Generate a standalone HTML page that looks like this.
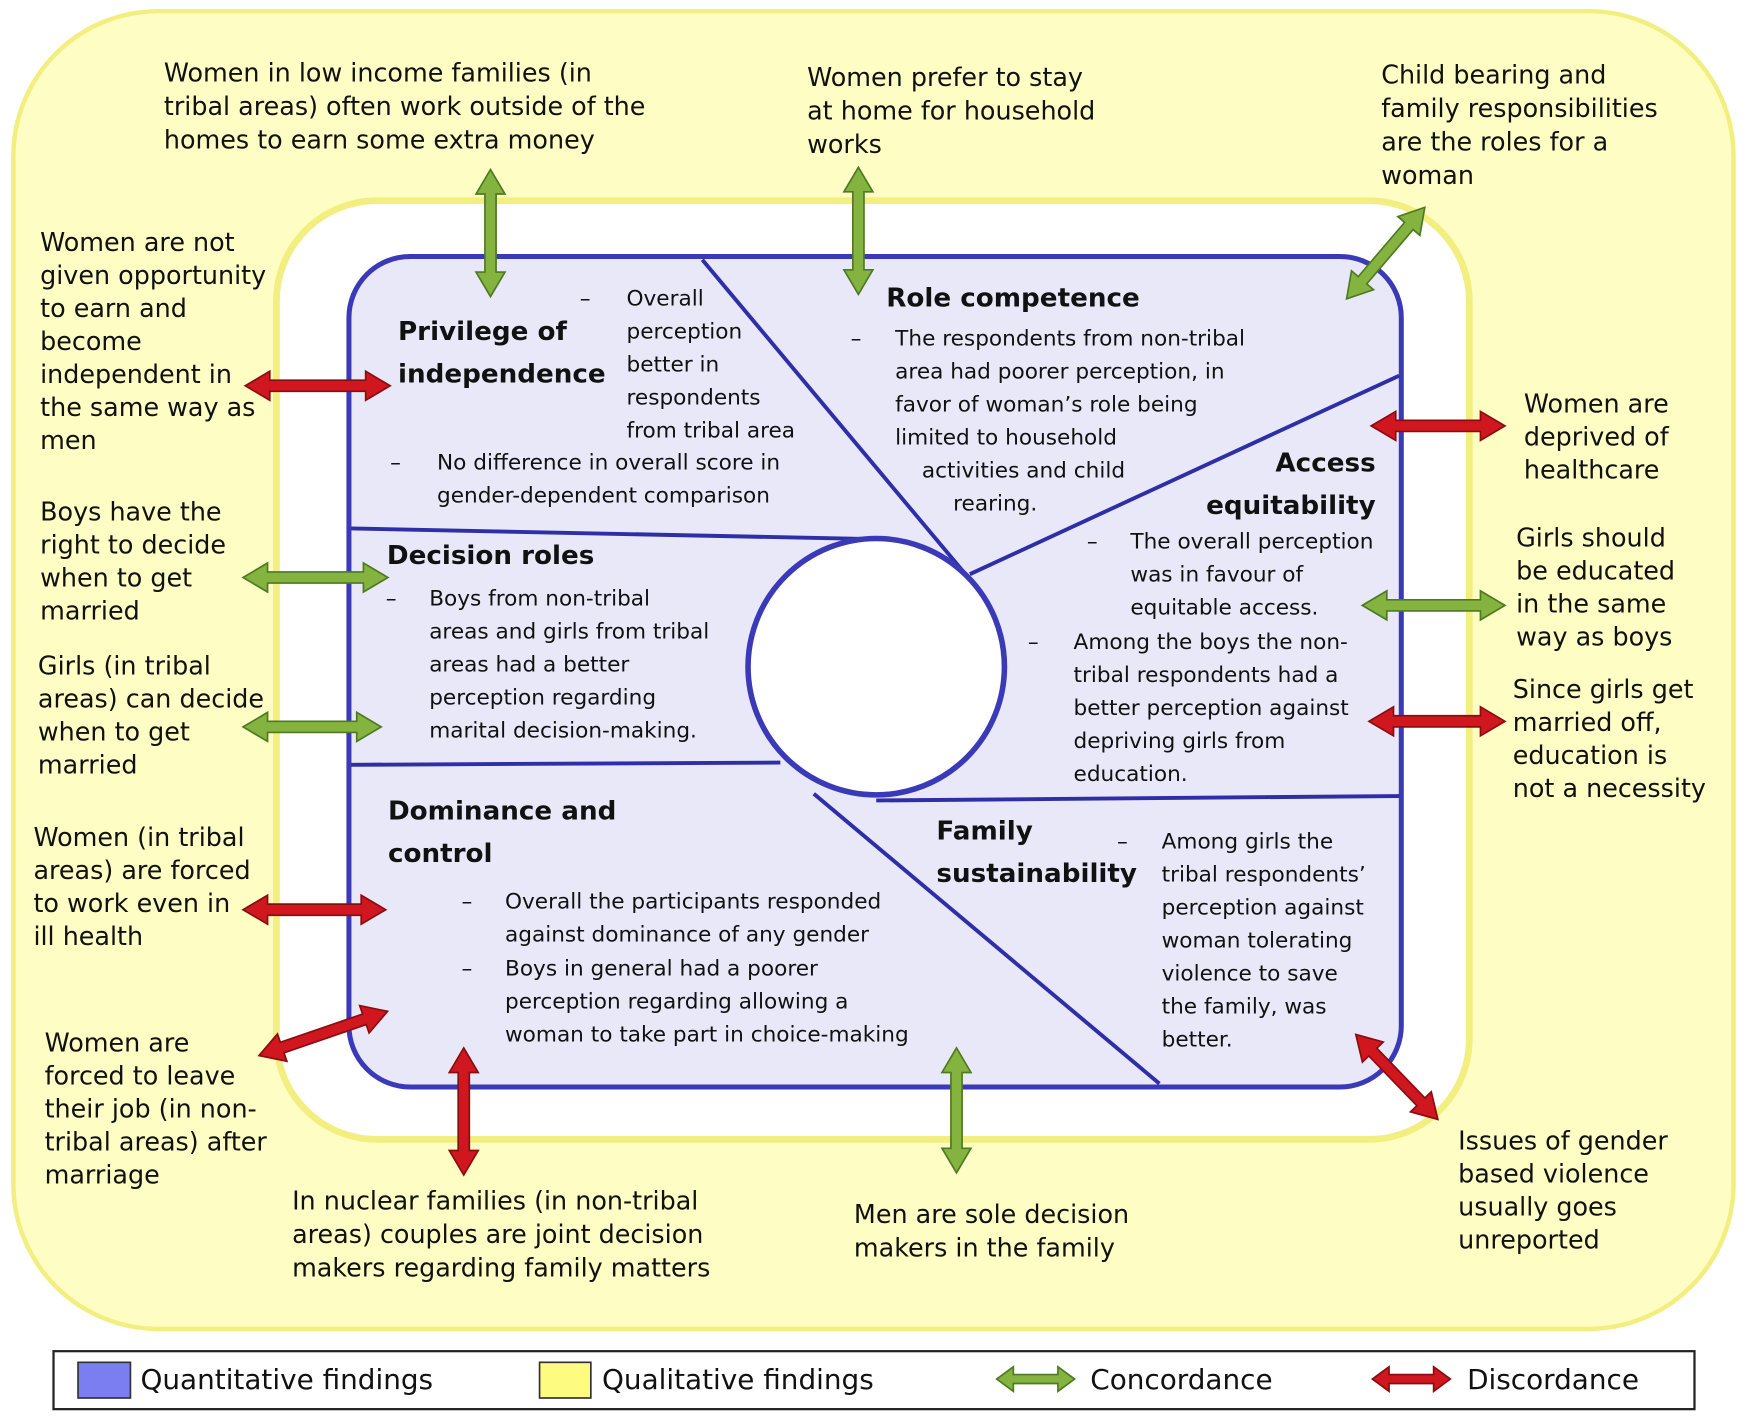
<!DOCTYPE html>
<html><head><meta charset="utf-8"><style>
html,body{margin:0;padding:0;background:#fff;}
svg{display:block;}
text{font-family:"DejaVu Sans","Liberation Sans",sans-serif;fill:#111;}
.o{font-size:22.8px;}
.i{font-size:19.4px;}
.h{font-size:23.5px;font-weight:bold;}
.lg{font-size:25px;}
.g{fill:#84b43f;stroke:#4d7a22;stroke-width:1.5;}
.r{fill:#d0161f;stroke:#8a0c10;stroke-width:1.5;}
</style></head><body>
<svg width="1748" height="1417" viewBox="0 0 1568 1271" xmlns="http://www.w3.org/2000/svg">
<rect width="1568" height="1271" fill="#fff"/>
<rect x="12" y="10" width="1543" height="1182" rx="130" fill="#fefdc4" stroke="#f3ee80" stroke-width="4"/>
<rect x="248" y="180" width="1070" height="842" rx="90" fill="#fff" stroke="#f3ee80" stroke-width="6"/>
<rect x="313" y="230" width="944" height="745" rx="55" fill="#e8e8f8" stroke="#3a3ab8" stroke-width="4.5"/>
<g stroke="#2e2ea6" stroke-width="3.5" fill="none">
<line x1="630" y1="233" x2="866" y2="515"/>
<line x1="315" y1="474" x2="805" y2="484"/>
<line x1="870" y1="515" x2="1255" y2="337"/>
<line x1="315" y1="686" x2="700" y2="684"/>
<line x1="786" y1="718" x2="1255" y2="714"/>
<line x1="730" y1="712" x2="1040" y2="972"/>
</g>
<circle cx="786" cy="598" r="115" fill="#fff" stroke="#3a3ab8" stroke-width="5"/>

<g class="g">
<polygon points="-57,0 -35,-13 -35,-5 35,-5 35,-13 57,0 35,13 35,5 -35,5 -35,13" transform="translate(440,209) rotate(90)"/>
<polygon points="-57,0 -35,-13 -35,-5 35,-5 35,-13 57,0 35,13 35,5 -35,5 -35,13" transform="translate(770,207) rotate(90)"/>
<polygon points="-54,0 -32,-13 -32,-5 32,-5 32,-13 54,0 32,13 32,5 -32,5 -32,13" transform="translate(1243,227) rotate(130.5)"/>
<polygon points="-65,0 -43,-13 -43,-5 43,-5 43,-13 65,0 43,13 43,5 -43,5 -43,13" transform="translate(283,518)"/>
<polygon points="-62,0 -40,-13 -40,-5 40,-5 40,-13 62,0 40,13 40,5 -40,5 -40,13" transform="translate(280,652)"/>
<polygon points="-64,0 -42,-13 -42,-5 42,-5 42,-13 64,0 42,13 42,5 -42,5 -42,13" transform="translate(1286,543)"/>
<polygon points="-56,0 -34,-13 -34,-5 34,-5 34,-13 56,0 34,13 34,5 -34,5 -34,13" transform="translate(858,996) rotate(90)"/>
</g>
<g class="r">
<polygon points="-65,0 -43,-13 -43,-5 43,-5 43,-13 65,0 43,13 43,5 -43,5 -43,13" transform="translate(285,346)"/>
<polygon points="-60,0 -38,-13 -38,-5 38,-5 38,-13 60,0 38,13 38,5 -38,5 -38,13" transform="translate(1290,382)"/>
<polygon points="-61,0 -39,-13 -39,-5 39,-5 39,-13 61,0 39,13 39,5 -39,5 -39,13" transform="translate(1289,647)"/>
<polygon points="-64,0 -42,-13 -42,-5 42,-5 42,-13 64,0 42,13 42,5 -42,5 -42,13" transform="translate(282,816)"/>
<polygon points="-61,0 -39,-13 -39,-5 39,-5 39,-13 61,0 39,13 39,5 -39,5 -39,13" transform="translate(290,927) rotate(-19)"/>
<polygon points="-57,0 -35,-13 -35,-5 35,-5 35,-13 57,0 35,13 35,5 -35,5 -35,13" transform="translate(416,997) rotate(90)"/>
<polygon points="-53,0 -31,-13 -31,-5 31,-5 31,-13 53,0 31,13 31,5 -31,5 -31,13" transform="translate(1253,966) rotate(46)"/>
</g>

<text class="o" x="147" y="73"><tspan x="147">Women in low income families (in</tspan><tspan x="147" dy="30">tribal areas) often work outside of the</tspan><tspan x="147" dy="30">homes to earn some extra money</tspan></text>
<text class="o" x="724" y="77"><tspan x="724">Women prefer to stay</tspan><tspan x="724" dy="30">at home for household</tspan><tspan x="724" dy="30">works</tspan></text>
<text class="o" x="1239" y="75"><tspan x="1239">Child bearing and</tspan><tspan x="1239" dy="30">family responsibilities</tspan><tspan x="1239" dy="30">are the roles for a</tspan><tspan x="1239" dy="30">woman</tspan></text>
<text class="o" x="36" y="225"><tspan x="36">Women are not</tspan><tspan x="36" dy="29.6">given opportunity</tspan><tspan x="36" dy="29.6">to earn and</tspan><tspan x="36" dy="29.6">become</tspan><tspan x="36" dy="29.6">independent in</tspan><tspan x="36" dy="29.6">the same way as</tspan><tspan x="36" dy="29.6">men</tspan></text>
<text class="o" x="36" y="467"><tspan x="36">Boys have the</tspan><tspan x="36" dy="29.6">right to decide</tspan><tspan x="36" dy="29.6">when to get</tspan><tspan x="36" dy="29.6">married</tspan></text>
<text class="o" x="34" y="605"><tspan x="34">Girls (in tribal</tspan><tspan x="34" dy="29.6">areas) can decide</tspan><tspan x="34" dy="29.6">when to get</tspan><tspan x="34" dy="29.6">married</tspan></text>
<text class="o" x="30" y="759"><tspan x="30">Women (in tribal</tspan><tspan x="30" dy="29.6">areas) are forced</tspan><tspan x="30" dy="29.6">to work even in</tspan><tspan x="30" dy="29.6">ill health</tspan></text>
<text class="o" x="40" y="943"><tspan x="40">Women are</tspan><tspan x="40" dy="29.6">forced to leave</tspan><tspan x="40" dy="29.6">their job (in non-</tspan><tspan x="40" dy="29.6">tribal areas) after</tspan><tspan x="40" dy="29.6">marriage</tspan></text>
<text class="o" x="262" y="1085"><tspan x="262">In nuclear families (in non-tribal</tspan><tspan x="262" dy="30">areas) couples are joint decision</tspan><tspan x="262" dy="30">makers regarding family matters</tspan></text>
<text class="o" x="766" y="1097"><tspan x="766">Men are sole decision</tspan><tspan x="766" dy="30">makers in the family</tspan></text>
<text class="o" x="1308" y="1031"><tspan x="1308">Issues of gender</tspan><tspan x="1308" dy="29.6">based violence</tspan><tspan x="1308" dy="29.6">usually goes</tspan><tspan x="1308" dy="29.6">unreported</tspan></text>
<text class="o" x="1367" y="370"><tspan x="1367">Women are</tspan><tspan x="1367" dy="29.6">deprived of</tspan><tspan x="1367" dy="29.6">healthcare</tspan></text>
<text class="o" x="1360" y="490"><tspan x="1360">Girls should</tspan><tspan x="1360" dy="29.6">be educated</tspan><tspan x="1360" dy="29.6">in the same</tspan><tspan x="1360" dy="29.6">way as boys</tspan></text>
<text class="o" x="1357" y="626"><tspan x="1357">Since girls get</tspan><tspan x="1357" dy="29.6">married off,</tspan><tspan x="1357" dy="29.6">education is</tspan><tspan x="1357" dy="29.6">not a necessity</tspan></text>

<text class="h" x="357" y="305"><tspan x="357">Privilege of</tspan><tspan x="357" dy="38">independence</tspan></text>
<text class="i" x="520" y="274">–</text>
<text class="i" x="562" y="274"><tspan x="562">Overall</tspan><tspan x="562" dy="29.6">perception</tspan><tspan x="562" dy="29.6">better in</tspan><tspan x="562" dy="29.6">respondents</tspan><tspan x="562" dy="29.6">from tribal area</tspan></text>
<text class="i" x="350" y="421">–</text>
<text class="i" x="392" y="421"><tspan x="392">No difference in overall score in</tspan><tspan x="392" dy="29.6">gender-dependent comparison</tspan></text>

<text class="h" x="795" y="275">Role competence</text>
<text class="i" x="763" y="310">–</text>
<text class="i" x="803" y="310"><tspan x="803">The respondents from non-tribal</tspan><tspan x="803" dy="29.6">area had poorer perception, in</tspan><tspan x="803" dy="29.6">favor of woman’s role being</tspan><tspan x="803" dy="29.6">limited to household</tspan><tspan x="827" dy="29.6">activities and child</tspan><tspan x="855" dy="29.6">rearing.</tspan></text>

<text class="h" x="1234" y="423" text-anchor="end"><tspan x="1234">Access</tspan><tspan x="1234" dy="38">equitability</tspan></text>
<text class="i" x="975" y="492">–</text>
<text class="i" x="1014" y="492"><tspan x="1014">The overall perception</tspan><tspan x="1014" dy="29.6">was in favour of</tspan><tspan x="1014" dy="29.6">equitable access.</tspan></text>
<text class="i" x="922" y="582">–</text>
<text class="i" x="963" y="582"><tspan x="963">Among the boys the non-</tspan><tspan x="963" dy="29.6">tribal respondents had a</tspan><tspan x="963" dy="29.6">better perception against</tspan><tspan x="963" dy="29.6">depriving girls from</tspan><tspan x="963" dy="29.6">education.</tspan></text>

<text class="h" x="347" y="506">Decision roles</text>
<text class="i" x="346" y="543">–</text>
<text class="i" x="385" y="543"><tspan x="385">Boys from non-tribal</tspan><tspan x="385" dy="29.6">areas and girls from tribal</tspan><tspan x="385" dy="29.6">areas had a better</tspan><tspan x="385" dy="29.6">perception regarding</tspan><tspan x="385" dy="29.6">marital decision-making.</tspan></text>

<text class="h" x="348" y="735"><tspan x="348">Dominance and</tspan><tspan x="348" dy="38">control</tspan></text>
<text class="i" x="414" y="815">–</text>
<text class="i" x="453" y="815"><tspan x="453">Overall the participants responded</tspan><tspan x="453" dy="29.6">against dominance of any gender</tspan></text>
<text class="i" x="414" y="875">–</text>
<text class="i" x="453" y="875"><tspan x="453">Boys in general had a poorer</tspan><tspan x="453" dy="29.6">perception regarding allowing a</tspan><tspan x="453" dy="29.6">woman to take part in choice-making</tspan></text>

<text class="h" x="840" y="753"><tspan x="840">Family</tspan><tspan x="840" dy="38">sustainability</tspan></text>
<text class="i" x="1002" y="761">–</text>
<text class="i" x="1042" y="761"><tspan x="1042">Among girls the</tspan><tspan x="1042" dy="29.6">tribal respondents’</tspan><tspan x="1042" dy="29.6">perception against</tspan><tspan x="1042" dy="29.6">woman tolerating</tspan><tspan x="1042" dy="29.6">violence to save</tspan><tspan x="1042" dy="29.6">the family, was</tspan><tspan x="1042" dy="29.6">better.</tspan></text>

<rect x="48" y="1212" width="1472" height="52" fill="#fff" stroke="#222" stroke-width="2"/>
<rect x="70" y="1222" width="47" height="32" fill="#7b7ef0" stroke="#333" stroke-width="1.5"/>
<text class="lg" x="126" y="1246">Quantitative findings</text>
<rect x="484" y="1222" width="46" height="32" fill="#fdfb80" stroke="#333" stroke-width="1.5"/>
<text class="lg" x="540" y="1246">Qualitative findings</text>
<polygon class="g" points="-35,0 -20,-11 -20,-4 20,-4 20,-11 35,0 20,11 20,4 -20,4 -20,11" transform="translate(929,1237)"/>
<text class="lg" x="978" y="1246">Concordance</text>
<polygon class="r" points="-35,0 -20,-11 -20,-4 20,-4 20,-11 35,0 20,11 20,4 -20,4 -20,11" transform="translate(1266,1237)"/>
<text class="lg" x="1316" y="1246">Discordance</text>
</svg>
</body></html>
